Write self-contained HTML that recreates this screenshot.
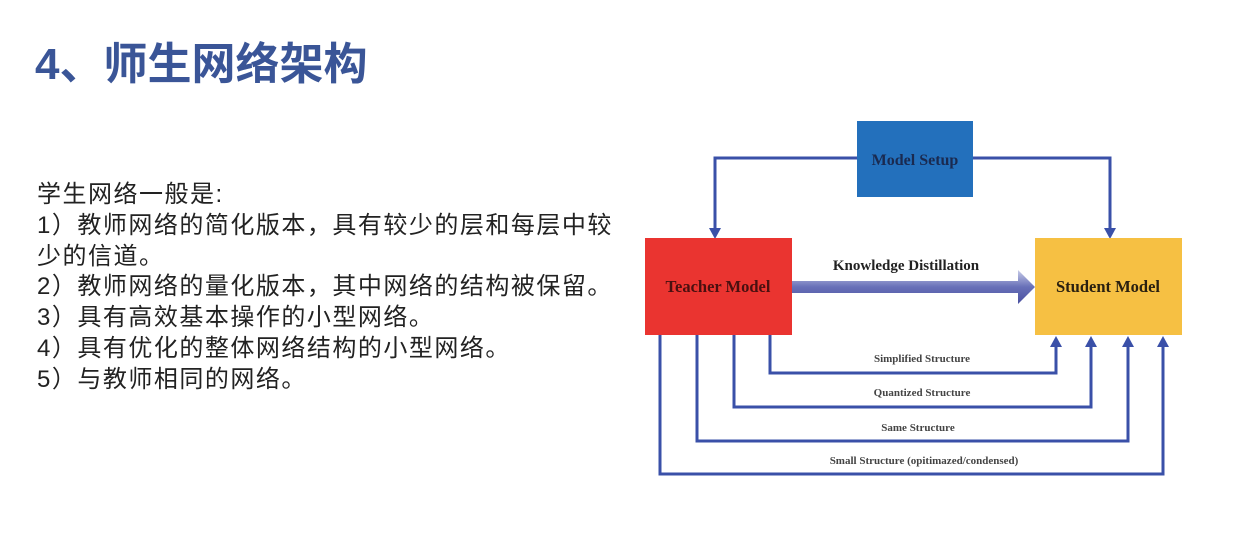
<!DOCTYPE html>
<html><head><meta charset="utf-8"><style>
body{margin:0;width:1252px;height:540px;background:#fff;position:relative;overflow:hidden;font-family:"Liberation Sans","Noto Sans CJK SC",sans-serif}
.t{position:absolute;left:35px;top:28px;font-size:44px;font-weight:bold;color:#3a5597;white-space:nowrap}
.b{position:absolute;left:37px;top:180px;font-size:24px;letter-spacing:1.5px;line-height:30.8px;color:#222;white-space:nowrap}
</style></head><body>
<div class="t">4、师生网络架构</div>
<div class="b">学生网络一般是:<br>1）教师网络的简化版本，具有较少的层和每层中较<br>少的信道。<br>2）教师网络的量化版本，其中网络的结构被保留。<br>3）具有高效基本操作的小型网络。<br>4）具有优化的整体网络结构的小型网络。<br>5）与教师相同的网络。</div>
<svg width="1252" height="540" style="position:absolute;left:0;top:0" font-family="Liberation Serif,serif" font-weight="bold">
<defs>
<linearGradient id="g" x1="0" y1="0" x2="0" y2="1"><stop offset="0" stop-color="#c8cce8"/><stop offset="0.5" stop-color="#6870b8"/><stop offset="1" stop-color="#4a50a0"/></linearGradient>
</defs>
<g stroke="#3a50a8" stroke-width="3" fill="none">
<path d="M857,158 H715 V230"/><path d="M973,158 H1110 V230"/>
<path d="M770,335 V373 H1056 V345"/>
<path d="M734,335 V407 H1091 V345"/>
<path d="M697,335 V441 H1128 V345"/>
<path d="M660,335 V474 H1163 V345"/>
</g>
<g fill="#3a50a8">
<path d="M709,228 L721,228 L715,239z"/><path d="M1104,228 L1116,228 L1110,239z"/>
<path d="M1050,347 L1062,347 L1056,336z"/><path d="M1085,347 L1097,347 L1091,336z"/>
<path d="M1122,347 L1134,347 L1128,336z"/><path d="M1157,347 L1169,347 L1163,336z"/>
</g>
<rect x="857" y="121" width="116" height="76" fill="#2370bc"/>
<text x="915" y="165" text-anchor="middle" font-size="16" fill="#1a2a50">Model Setup</text>
<rect x="645" y="238" width="147" height="97" fill="#ea3430"/>
<text x="718" y="292" text-anchor="middle" font-size="16.5" fill="#4a1010">Teacher Model</text>
<rect x="1035" y="238" width="147" height="97" fill="#f6c043"/>
<text x="1108" y="292" text-anchor="middle" font-size="16.5" fill="#2a2010">Student Model</text>
<path d="M792,281 H1018 V270 L1035,287 L1018,304 V293 H792z" fill="url(#g)"/>
<text x="906" y="270" text-anchor="middle" font-size="15" fill="#222">Knowledge Distillation</text>
<g font-size="11" fill="#444" text-anchor="middle">
<text x="922" y="362">Simplified Structure</text>
<text x="922" y="396">Quantized Structure</text>
<text x="918" y="431">Same Structure</text>
<text x="924" y="464">Small Structure (opitimazed/condensed)</text>
</g>
</svg>
</body></html>
